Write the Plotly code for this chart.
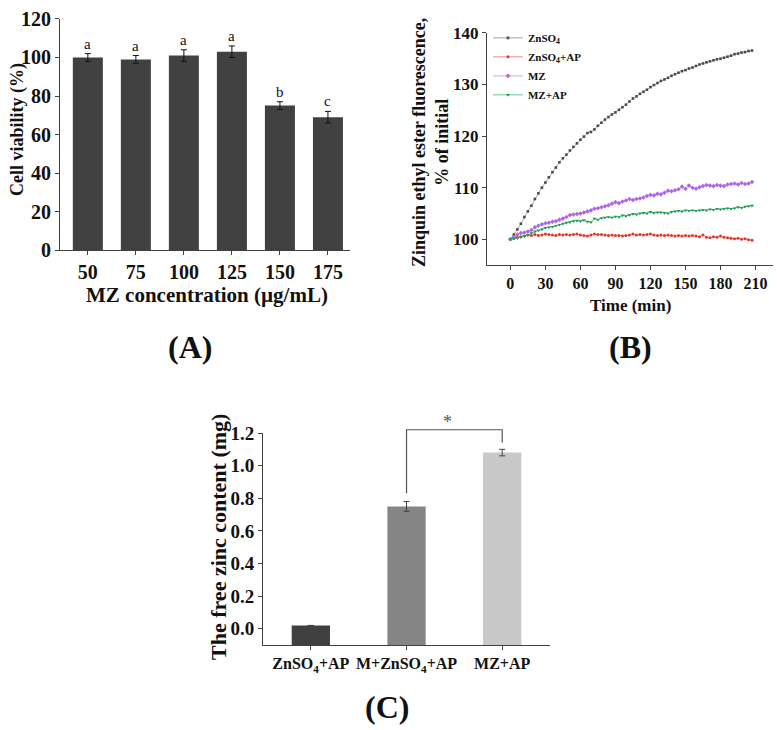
import plotly.graph_objects as go

# ---------------- Data ----------------
# Panel A
conc_labels = ["50", "75", "100", "125", "150", "175"]
viability = [100, 99, 101, 103, 75, 69]
viability_err = [2, 2, 3, 3, 2, 3]
viability_letters = ["a", "a", "a", "a", "b", "c"]

# Panel B
time_min = list(range(0, 208, 3))
znso4 = [100.0, 100.9, 101.9, 103.0, 104.3, 105.4, 106.5, 107.8, 108.9, 110.0,
         111.0, 112.0, 113.0, 113.9, 114.9, 115.7, 116.4, 117.2, 117.9, 118.6,
         119.3, 119.9, 120.6, 120.8, 121.3, 122.0, 122.6, 123.2, 123.7, 124.2,
         124.6, 125.1, 125.6, 126.1, 126.7, 127.3, 127.7, 128.2, 128.6, 129.0,
         129.5, 129.9, 130.3, 130.7, 131.0, 131.3, 131.7, 132.0, 132.3, 132.6,
         132.8, 133.1, 133.3, 133.6, 133.9, 134.1, 134.3, 134.5, 134.7, 134.9,
         135.0, 135.2, 135.4, 135.6, 135.9, 136.0, 136.2, 136.3, 136.5, 136.6]
znso4_ap = [100.0, 100.2, 100.4, 100.5, 100.6, 100.8, 100.7, 100.9, 100.7, 100.8,
            101.0, 100.9, 100.8, 100.7, 100.9, 100.8, 100.9, 100.8, 100.9, 101.0,
            100.8, 100.7, 100.6, 100.8, 101.0, 100.9, 100.9, 100.8, 100.7, 100.8,
            100.7, 100.7, 100.6, 100.7, 100.8, 101.0, 100.8, 100.9, 100.8, 100.9,
            101.0, 100.8, 100.7, 100.8, 100.7, 100.8, 100.7, 100.6, 100.7, 100.6,
            100.7, 100.6, 100.7, 100.6, 100.5, 100.8, 100.4, 100.3, 100.5, 100.4,
            100.6, 100.4, 100.3, 100.2, 100.1, 100.2, 100.0, 100.1, 99.9, 99.8]
mz = [100.0, 100.4, 100.9, 101.2, 101.3, 101.5, 101.8, 102.3, 102.6, 102.9,
      103.1, 103.2, 103.4, 103.5, 103.8, 104.0, 104.3, 104.7, 104.8, 104.9,
      105.0, 105.2, 105.4, 105.6, 105.9, 106.0, 106.2, 106.4, 106.6, 106.9,
      107.2, 107.0, 107.3, 107.5, 107.8, 107.6, 107.8, 107.9, 108.1, 108.4,
      108.6, 108.5, 108.8, 108.7, 109.0, 109.4, 109.3, 109.5, 109.7, 110.2,
      109.8, 110.4, 110.0, 109.8, 110.1, 110.3, 110.5, 110.4, 110.3, 110.5,
      110.4, 110.3, 110.6, 110.7, 110.8, 110.6, 110.9, 110.7, 110.8, 111.1]
mz_ap = [100.0, 100.1, 100.2, 100.4, 100.6, 100.8, 101.2, 101.5, 101.7, 101.9,
         102.2, 102.3, 102.4, 102.6, 102.8, 103.0, 103.2, 103.3, 103.5, 103.6,
         103.5, 103.7, 103.4, 103.3, 104.0, 103.8, 104.1, 104.2, 104.3, 104.2,
         104.4, 104.3, 104.6, 104.5, 104.7, 104.9, 104.8, 105.0, 105.1, 105.0,
         105.3, 105.1, 105.2, 105.2, 105.1, 105.0, 105.3, 105.4, 105.5, 105.4,
         105.6, 105.5, 105.6, 105.5, 105.6, 105.7, 105.6, 105.8, 105.7, 105.9,
         105.8, 105.9, 106.0, 105.9, 106.0, 106.2, 106.1, 106.3, 106.4, 106.5]
series_names = ["ZnSO<sub>4</sub>", "ZnSO<sub>4</sub>+AP", "MZ", "MZ+AP"]

# Panel C
groups_c = ["ZnSO4+AP", "M+ZnSO4+AP", "MZ+AP"]
groups_c_text = ["ZnSO<sub>4</sub>+AP", "M+ZnSO<sub>4</sub>+AP", "MZ+AP"]
zinc = [0.02, 0.75, 1.08]
zinc_err = [None, 0.03, 0.02]

# ---------------- Styling ----------------
SERIF = "Liberation Serif"
AX = "#404040"
c_range = [-0.1, 1.2]

fig = go.Figure()

# Panel A bars
fig.add_trace(go.Bar(
    x=conc_labels, y=viability, width=0.625,
    marker=dict(color="#414141", line=dict(width=0)),
    error_y=dict(type="data", array=viability_err, color="#111111", thickness=1, width=3),
    xaxis="x", yaxis="y", showlegend=False))

# Panel B lines
styles = [
    dict(line="#a8a8a8", marker="#4a4a4a", symbol="square", size=2.6),
    dict(line="#f08a84", marker="#e8332b", symbol="circle", size=3),
    dict(line="#cfa6ee", marker="#b065e8", symbol="diamond", size=3.5),
    dict(line="#6cc896", marker="#1f9a56", symbol="triangle-down", size=3.5),
]
for name, vals, st in zip(series_names, [znso4, znso4_ap, mz, mz_ap], styles):
    fig.add_trace(go.Scatter(
        x=time_min, y=vals, name=name, mode="lines+markers",
        line=dict(color=st["line"], width=1),
        marker=dict(color=st["marker"], size=st["size"], symbol=st["symbol"]),
        xaxis="x2", yaxis="y2"))

# Panel C bars: drawn from the bottom of the axis (as in the original figure)
c_base = c_range[0]
fig.add_trace(go.Bar(
    x=groups_c, y=[v - c_base for v in zinc], base=c_base, width=0.4,
    marker=dict(color=["#404040", "#858585", "#c8c8c8"], line=dict(width=0)),
    error_y=dict(type="data", array=zinc_err, color="#404040", thickness=1, width=3),
    xaxis="x3", yaxis="y3", showlegend=False))

tick_bold = lambda s: dict(family=SERIF, size=s, color="#111111", weight="bold")
common_axis = dict(showline=True, linecolor=AX, linewidth=1, ticks="outside",
                   ticklen=4, tickcolor=AX, showgrid=False, zeroline=False,
                   automargin=False)

fig.update_layout(
    width=777, height=730, autosize=False,
    margin=dict(l=0, r=0, t=0, b=0, pad=0, autoexpand=False),
    paper_bgcolor="white", plot_bgcolor="white",
    font=dict(family=SERIF, color="#111111"),
    xaxis=dict(domain=[0.0772, 0.4505], anchor="y", range=[-0.58, 5.46],
               tickfont=tick_bold(20), **common_axis),
    yaxis=dict(domain=[0.6575, 0.974], anchor="x", range=[0, 120], dtick=20,
               tickfont=tick_bold(20), **common_axis),
    xaxis2=dict(domain=[0.6268, 0.9949], anchor="y2", range=[-20, 225],
                tickvals=[0, 30, 60, 90, 120, 150, 180, 210],
                tickfont=tick_bold(16), **common_axis),
    yaxis2=dict(domain=[0.637, 0.9548], anchor="x2", range=[95, 140],
                tickvals=[100, 110, 120, 130, 140],
                tickfont=tick_bold(17), **common_axis),
    xaxis3=dict(domain=[0.3385, 0.7079], anchor="y3", range=[-0.5, 2.5],
                tickvals=groups_c, ticktext=groups_c_text,
                tickfont=tick_bold(16), **common_axis),
    yaxis3=dict(domain=[0.1164, 0.4068], anchor="x3", range=c_range,
                tickvals=[0, 0.2, 0.4, 0.6, 0.8, 1.0, 1.2], tickformat=".1f",
                tickfont=tick_bold(19), **common_axis),
    legend=dict(x=0.628, y=0.968, xanchor="left", yanchor="top",
                font=dict(family=SERIF, size=11, color="#111111", weight="bold"),
                bgcolor="rgba(0,0,0,0)", tracegroupgap=0, itemwidth=30),
    showlegend=True,
)

annotations = []
for i, (v, e, letter) in enumerate(zip(viability, viability_err, viability_letters)):
    annotations.append(dict(x=i, y=v + e, xref="x", yref="y", text=letter,
                            showarrow=False, yanchor="bottom", yshift=0,
                            font=dict(family=SERIF, size=15, color="#111111")))

def title(text, x, y, size, angle=0):
    return dict(x=x, y=y, xref="paper", yref="paper", text=text, showarrow=False,
                textangle=angle, xanchor="center", yanchor="middle",
                font=dict(family=SERIF, size=size, color="#111111", weight="bold"))

annotations += [
    title("Cell viability (%)", 17 / 777, 1 - 130 / 730, 18, -90),
    title("MZ concentration (µg/mL)", 207 / 777, 1 - 295 / 730, 21),
    title("(A)", 190 / 777, 1 - 347 / 730, 32),
    title("Zinquin ethyl ester fluorescence,<br>% of initial", 430 / 777, 1 - 143 / 730, 18, -90),
    title("Time (min)", 630 / 777, 1 - 305 / 730, 17),
    title("(B)", 630 / 777, 1 - 347 / 730, 32),
    title("The free zinc content (mg)", 218 / 777, 1 - 537 / 730, 22, -90),
    title("(C)", 387 / 777, 1 - 707 / 730, 32),
]

def ydom(v):
    return (v - c_range[0]) / (c_range[1] - c_range[0])

def xdom(i):
    return (i + 0.5) / len(groups_c)

bracket_top = 1.22
left_bottom = zinc[1] + zinc_err[1] + 0.05
right_bottom = zinc[2] + zinc_err[2] + 0.04
shapes = [dict(type="path", xref="x3 domain", yref="y3 domain",
               path=f"M {xdom(1)},{ydom(left_bottom)} L {xdom(1)},{ydom(bracket_top)} "
                    f"L {xdom(2)},{ydom(bracket_top)} L {xdom(2)},{ydom(right_bottom)}",
               line=dict(color="#555555", width=1.2))]
annotations.append(dict(x=(xdom(1) + xdom(2)) / 2, y=ydom(bracket_top), xref="x3 domain",
                        yref="y3 domain", text="*", showarrow=False, yanchor="bottom",
                        yshift=-4, font=dict(family=SERIF, size=18, color="#555555")))

fig.update_layout(annotations=annotations, shapes=shapes)

fig.write_html("out.html", config={"displayModeBar": False},
               post_script="document.body.style.margin='0';document.body.style.overflow='hidden';")
